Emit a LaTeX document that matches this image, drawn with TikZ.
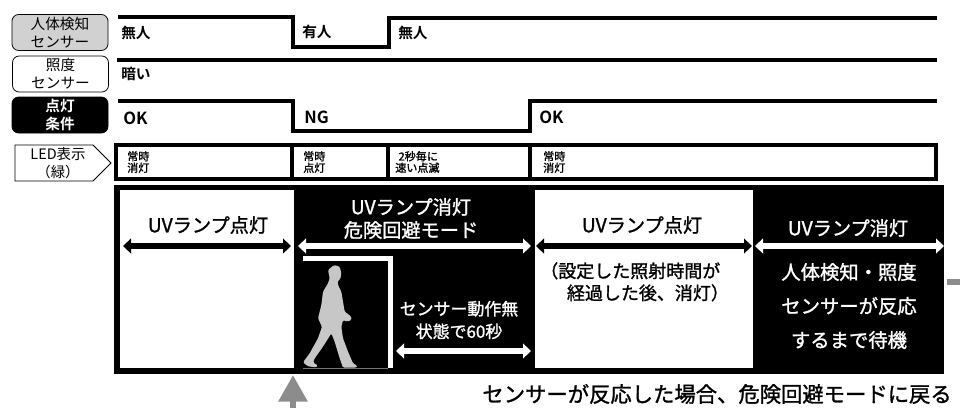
\documentclass[tikz,border=0pt]{standalone}
\usepackage{fontspec}
\usetikzlibrary{arrows.meta,shapes.geometric}
\setmainfont{Noto Sans CJK JP}[BoldFont={Noto Sans CJK JP Bold}]
\newfontfamily\med{Noto Sans CJK JP}[FakeBold=1.3]
\newcommand{\fs}[2]{\fontsize{#1pt}{#2pt}\selectfont}
\definecolor{mangray}{gray}{0.78}
\definecolor{arrgray}{gray}{0.55}
\tikzset{
  x=0.75pt,y=-0.75pt,
  sensorbox/.style={draw=black,rounded corners=5pt,line width=0.6pt,align=center,inner sep=0,minimum width=72pt,minimum height=27pt,font=\fs{11}{13.5}},
  wave/.style={line width=3.2pt,line cap=butt,line join=miter},
  txt/.style={inner sep=0,anchor=west,font=\fs{11}{12}\bfseries},
  big/.style={inner sep=0,anchor=west,font=\fs{12.5}{14}\bfseries},
  small/.style={inner sep=0,anchor=west,align=left,font=\fs{8.3}{8.6}\med},
  heading/.style={inner sep=0,align=center,font=\fs{14.4}{17.3}\med},
  span/.style={line width=4.4pt,{Triangle[length=6pt,width=11pt]}-{Triangle[length=6pt,width=11pt]}},
}
\begin{document}
\begin{tikzpicture}
\useasboundingbox (0,0) rectangle (960,408);
% sensor boxes
\node[sensorbox,fill=black!18] (s1) at (60,32.5) {人体検知\\センサー};
\node[sensorbox] (s2) at (60.5,74) {照度\\センサー};
\node[sensorbox,fill=black,text=white,font=\fs{11}{13}\bfseries] (s3) at (60,115) {点灯\\条件};
% LED pentagon
\draw[line width=0.6pt,fill=white] (15,145) -- (93,145) -- (111,163) -- (93,181) -- (15,181) -- cycle;
\node[inner sep=0,align=center,font=\fs{10.8}{14}] (led) at (58,163) {LED表示\\（緑）};
% waveforms
\coordinate (w1a) at (118,17); \coordinate (w1b) at (293,17); \coordinate (w1c) at (293,47);
\coordinate (w1d) at (389,47); \coordinate (w1e) at (389,18); \coordinate (w1f) at (937,18);
\draw[wave] (w1a) -- (w1b) -- (w1c) -- (w1d) -- (w1e) -- (w1f);
\coordinate (w2a) at (117,60); \coordinate (w2b) at (937,60);
\draw[wave] (w2a) -- (w2b);
\coordinate (w3a) at (118,101); \coordinate (w3b) at (293,101); \coordinate (w3c) at (293,131);
\coordinate (w3d) at (530,131); \coordinate (w3e) at (530,101); \coordinate (w3f) at (937,101);
\draw[wave] (w3a) -- (w3b) -- (w3c) -- (w3d) -- (w3e) -- (w3f);
\node[txt] (t1) at (121,33) {無人};
\node[txt] (t2) at (302,32) {有人};
\node[txt] (t3) at (398,33) {無人};
\node[txt] (t4) at (121,73.5) {暗い};
\node[big] (t5) at (123,118) {OK};
\node[big] (t6) at (304,117) {NG};
\node[big] (t7) at (539,117) {OK};
% LED strip
\draw[line width=3.2pt] (116,145) rectangle (936,179);
\draw[line width=3.2pt] (292,145) -- (292,179) (388,145) -- (388,179) (530,145) -- (530,179);
\node[small] (l1) at (127,162) {常時\\消灯};
\node[small] (l2) at (303,162) {常時\\点灯};
\node[small] (l3) at (395,162) {\hspace{2.5pt}2秒毎に\\速い点滅};
\node[small] (l4) at (543,162) {常時\\消灯};
% main panel
\fill[black] (114,185) rectangle (944,374);
\fill[white] (120,190) rectangle (294,368);
\fill[white] (535,190) rectangle (753,368);
% doorway
\fill[white] (303,256) rectangle (393,261);
\fill[white] (388,256) rectangle (393,368);
\draw[black!55,line width=0.5pt] (303,368) -- (388,368);
% walking figure
\begin{scope}[shift={(298,255)},x=0.25pt,y=-0.25pt]
\fill[mangray,rounded corners=1pt]
 (108,30) -- (125,35) -- (130,55) -- (127,72) -- (118,80) -- (122,95) -- (130,110) -- (135,140)
 -- (140,170) -- (160,185) -- (160,195) -- (148,200) -- (135,195) -- (130,215) -- (135,250)
 -- (150,290) -- (165,325) -- (178,332) -- (175,338) -- (135,338) -- (125,310) -- (110,260)
 -- (100,235) -- (75,275) -- (50,310) -- (45,322) -- (60,332) -- (55,337) -- (30,334) -- (15,322)
 -- (35,295) -- (60,250) -- (72,215) -- (60,190) -- (70,150) -- (75,110) -- (90,85) -- (95,70)
 -- (90,45) -- cycle;
\end{scope}
% span arrows
\coordinate (a1) at (123,246); \coordinate (a2) at (291,246);
\coordinate (a3) at (298,246); \coordinate (a4) at (531,246);
\coordinate (a5) at (536,246); \coordinate (a6) at (752,246);
\coordinate (a7) at (755,246); \coordinate (a8) at (944,246);
\coordinate (a9) at (396,351); \coordinate (a10) at (531,351);
\draw[span,black] (a1) -- (a2);
\draw[span,white] (a3) -- (a4);
\draw[span,black] (a5) -- (a6);
\draw[span,white] (a7) -- (a8);
\draw[span,white] (a9) -- (a10);
% panel texts
\node[heading] (h1) at (208,225) {UVランプ点灯};
\node[heading,text=white] (h2) at (411,218.5) {UVランプ消灯\\危険回避モード};
\node[heading] (h3) at (642,225) {UVランプ点灯};
\node[heading,text=white] (h4) at (848,228) {UVランプ消灯};
\node[inner sep=0,align=left,anchor=north west,font=\fs{13.5}{16.5}\med] (h5) at (540,262) {（設定した照射時間が\\\hspace{20pt}経過した後、消灯）};
\node[inner sep=0,align=center,text=white,font=\fs{14.5}{25.5}\med] (h6) at (849,306) {人体検知・照度\\センサーが反応\\するまで待機};
\node[inner sep=0,align=center,text=white,font=\fs{12.7}{17}\med] (h7) at (459,320) {センサー動作無\\状態で60秒};
\node[inner sep=0,anchor=east,font=\fs{16}{18}\med] (foot) at (952,394) {センサーが反応した場合、危険回避モードに戻る};
% grey markers
\coordinate (g1) at (293,408); \coordinate (g2) at (293,375);
\draw[arrgray,line width=4.5pt,-{Triangle[length=20pt,width=21pt]}] (g1) -- (g2);
\fill[arrgray] (947,279) rectangle (960,285);
\end{tikzpicture}
\end{document}
